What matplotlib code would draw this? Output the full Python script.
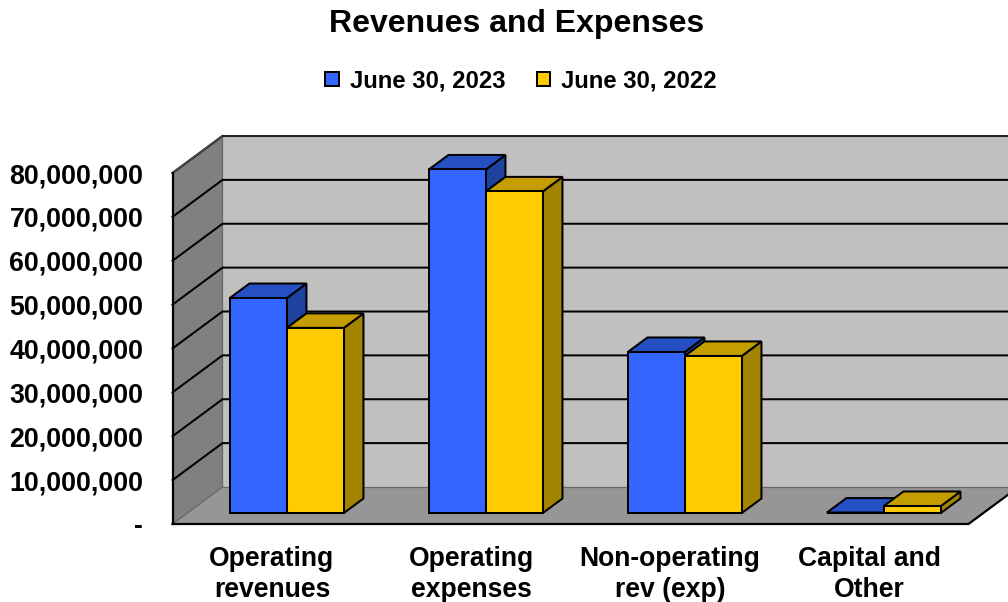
import matplotlib
matplotlib.use("Agg")
import matplotlib.pyplot as plt
from matplotlib.patches import Polygon, Patch
from matplotlib.ticker import FuncFormatter

plt.rcParams['font.family'] = ['Liberation Sans', 'DejaVu Sans']
plt.rcParams['font.weight'] = 'bold'

categories = ["Operating\nrevenues", "Operating\nexpenses", "Non-operating\nrev (exp)", "Capital and\nOther"]
series_names = ["June 30, 2023", "June 30, 2022"]
values_2023 = [49000000, 78300000, 36700000, 100000]
values_2022 = [42200000, 73300000, 35800000, 1600000]
y_ticks = [0, 10000000, 20000000, 30000000, 40000000, 50000000, 60000000, 70000000, 80000000]

W, H = 1008, 602
AX_L, AX_R, AX_B, AX_T = 172.5, 1008, 524, 136
SLOT_PX = 199.0
PLANE_PX = 351.0
YMAX = 80000000
DEPTH_X = 50 / SLOT_PX
DEPTH_Y = 37 / PLANE_PX * YMAX
BAR_W = 57 / SLOT_PX
D_FRONT, D_BACK = 11 / 37, 25.5 / 37
LW = 1.45

BLUE = ("#3366FF", "#2550C4", "#1F429F")
GOLD = ("#FFCC00", "#C49E00", "#A38400")

fig = plt.figure(figsize=(W / 100, H / 100), dpi=100, facecolor="white")
ax = fig.add_axes([AX_L / W, 1 - AX_B / H, (AX_R - AX_L) / W, (AX_B - AX_T) / H])
ax.set_xlim(0, (AX_R - AX_L) / SLOT_PX)
ax.set_ylim(0, (AX_B - AX_T) / PLANE_PX * YMAX)
ax.patch.set_visible(False)
for s in ax.spines.values():
    s.set_visible(False)


def P(x, v, d):
    return (x + d * DEPTH_X, v + d * DEPTH_Y)


def poly(points, face, edge="black", lw=LW, z=2):
    ax.add_patch(Polygon(points, closed=True, facecolor=face, edgecolor=edge, linewidth=lw,
                         joinstyle="miter", clip_on=False, zorder=z))


XEND = len(categories)
# walls and floor
poly([P(0, 0, 1), P(XEND, 0, 1), P(XEND, YMAX, 1), P(0, YMAX, 1)], "#C0C0C0", edge="none", z=1)
poly([P(0, 0, 0), P(0, 0, 1), P(0, YMAX, 1), P(0, YMAX, 0)], "#808080", edge="none", z=1)
poly([P(0, 0, 0), P(XEND, 0, 0), P(XEND, 0, 1), P(0, 0, 1)], "#969696", edge="none", z=1)

# gridlines
for t in y_ticks[1:]:
    xs, ys = zip(P(0, t, 0), P(0, t, 1), P(XEND, t, 1))
    ax.plot(xs, ys, color="black", lw=LW, clip_on=False, zorder=1.5, solid_joinstyle="miter")
# base edges
xs, ys = zip(P(0, 0, 1), P(XEND, 0, 1))
ax.plot(xs, ys, color="#666666", lw=0.9, clip_on=False, zorder=1.4)
xs, ys = zip(P(0, 0, 0), P(0, 0, 1), P(0, YMAX, 1))
ax.plot(xs, ys, color="#666666", lw=0.9, clip_on=False, zorder=1.4)
xs, ys = zip(P(0, YMAX, 0), P(0, YMAX, 1))
ax.plot(xs, ys, color="#444444", lw=LW, clip_on=False, zorder=1.6)
xs, ys = zip(P(0, 0, 0), P(XEND, 0, 0), P(XEND, 0, 1))
ax.plot(xs, ys, color="black", lw=LW * 1.1, clip_on=False, zorder=1.6)
xs, ys = zip(P(0, 0, 0), P(0, YMAX, 0))
ax.plot(xs, ys, color="black", lw=LW * 1.1, clip_on=False, zorder=1.6)
xs, ys = zip(P(0, YMAX, 1), P(XEND, YMAX, 1))
ax.plot(xs, ys, color="#222222", lw=LW, clip_on=False, zorder=1.6)


def bar3d(x0, v, colors, z):
    x1 = x0 + BAR_W
    poly([P(x1, 0, D_FRONT), P(x1, 0, D_BACK), P(x1, v, D_BACK), P(x1, v, D_FRONT)], colors[2], z=z)
    poly([P(x0, v, D_FRONT), P(x1, v, D_FRONT), P(x1, v, D_BACK), P(x0, v, D_BACK)], colors[1], z=z)
    poly([P(x0, 0, D_FRONT), P(x1, 0, D_FRONT), P(x1, v, D_FRONT), P(x0, v, D_FRONT)], colors[0], z=z)


for i in range(len(categories)):
    c = i + 0.5
    bar3d(c - BAR_W, values_2023[i], BLUE, 3 + i)
    bar3d(c, values_2022[i], GOLD, 3.5 + i)

# axes labels
ax.set_yticks(y_ticks)
ax.yaxis.set_major_formatter(FuncFormatter(lambda v, _: "-" if v == 0 else f"{int(v):,}"))
ax.tick_params(axis="y", length=0, pad=21, labelsize=19.3)
ax.set_xticks([i + 0.5 for i in range(len(categories))])
ax.set_xticklabels(categories, fontsize=19.1, linespacing=1.25)
ax.tick_params(axis="x", length=0, pad=16)

fig.text(517 / W, 1 - 24 / H, "Revenues and Expenses", ha="center", va="center", fontsize=23, fontweight="bold")

handles = [Patch(facecolor=BLUE[0], edgecolor="black", linewidth=LW, label=series_names[0]),
           Patch(facecolor=GOLD[0], edgecolor="black", linewidth=LW, label=series_names[1])]
fig.legend(handles=handles, loc="center", bbox_to_anchor=(521 / W, 1 - 81 / H), ncol=2, frameon=False,
           fontsize=17.2, handlelength=0.56, handleheight=0.56, handletextpad=0.45, columnspacing=1.33,
           borderpad=0, borderaxespad=0)

fig.savefig("out.png", dpi=100)
